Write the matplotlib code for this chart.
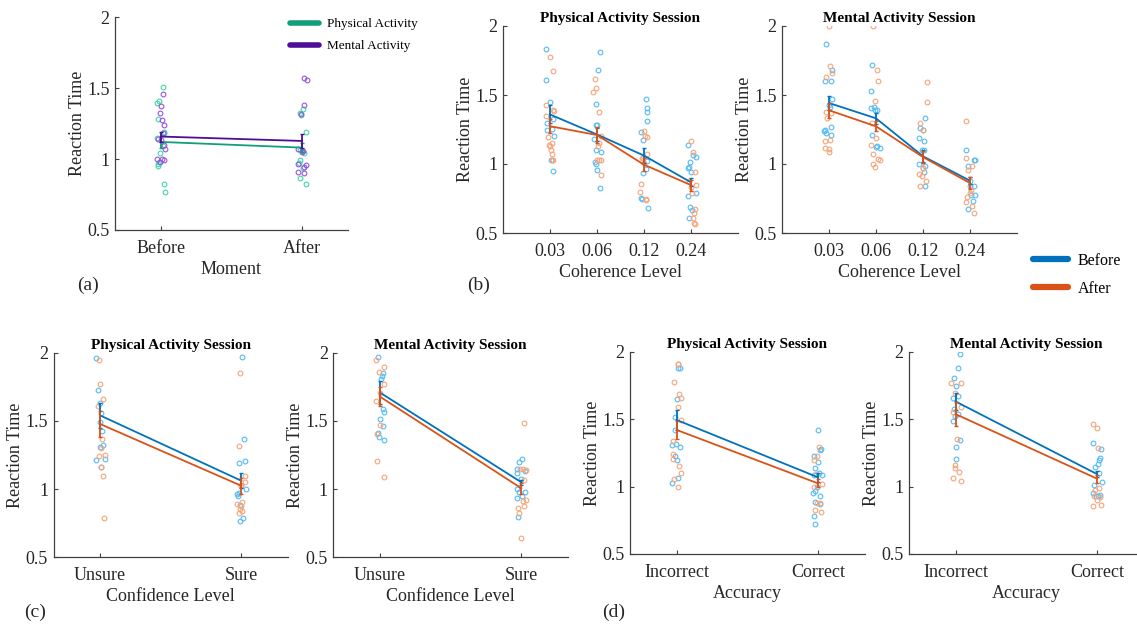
import numpy as np
import matplotlib
matplotlib.use("Agg")
import matplotlib.pyplot as plt
from matplotlib.lines import Line2D

plt.rcParams['font.family'] = ['Liberation Serif', 'DejaVu Serif']

# ---------- colours ----------
c_before, c_after = '#0072BD', '#D95319'
c_before_pt, c_after_pt = '#55BBF5', '#F5A57A'
c_phys, c_ment = '#129E7A', '#4E0E97'
c_phys_pt, c_ment_pt = '#40D9A5', '#9955DD'

# ---------- panel (a): moment ----------
a_ticks = ['Before', 'After']
a_phys_mean = [1.121, 1.081]
a_phys_err = [0.045, 0.03]
a_ment_mean = [1.159, 1.128]
a_ment_err = [0.035, 0.05]
a_phys_y = [[1.507, 1.408, 1.394, 1.281, 1.194, 1.186, 1.147, 1.095, 1.041, 0.982, 0.966, 0.952, 0.822, 0.768],
            [1.352, 1.324, 1.312, 1.192, 1.065, 1.06, 1.041, 0.994, 0.971, 0.935, 0.865, 0.822]]
a_phys_dx = [[0.012, -0.017, -0.028, -0.024, 0.019, 0.02, -0.028, 0.012, -0.009, -0.012, -0.024, -0.024, 0.019, 0.028],
             [0.005, -0.012, -0.007, 0.031, -0.012, 0.0, 0.012, -0.017, -0.024, 0.007, -0.017, 0.026]]
a_ment_y = [[1.458, 1.375, 1.326, 1.274, 1.243, 1.187, 1.145, 1.135, 1.098, 1.072, 0.999, 0.999, 0.994, 0.978],
            [1.571, 1.561, 1.382, 1.316, 1.069, 1.06, 1.05, 0.966, 0.961, 0.947, 0.912, 0.9]]
a_ment_dx = [[0.014, 0.0, -0.005, 0.007, 0.024, 0.012, -0.019, 0.0, 0.019, 0.028, -0.028, 0.007, 0.019, -0.005],
             [0.012, 0.035, 0.012, -0.007, -0.028, 0.005, 0.0, -0.028, 0.031, 0.017, -0.031, 0.017]]

# ---------- panel (b): coherence level ----------
b_ticks = ['0.03', '0.06', '0.12', '0.24']
b_phys_before_mean = [1.359, 1.214, 1.061, 0.867]
b_phys_before_err = [0.065, 0.05, 0.055, 0.03]
b_phys_after_mean = [1.274, 1.21, 0.995, 0.847]
b_phys_after_err = [0.05, 0.055, 0.048, 0.04]
b_phys_before_y = [[1.833, 1.607, 1.449, 1.328, 1.299, 1.255, 1.245, 1.201, 1.032, 0.949],
                   [1.808, 1.68, 1.434, 1.286, 1.28, 1.182, 1.104, 1.085, 1.015, 1.002, 0.959, 0.825],
                   [1.468, 1.403, 1.379, 1.311, 1.231, 1.177, 0.964, 1.019, 0.934, 0.752, 0.748, 0.684],
                   [1.136, 1.068, 1.051, 1.012, 0.968, 0.976, 0.94, 0.769, 0.793, 0.692, 0.667, 0.607]]
b_phys_before_dx = [[-0.078, -0.092, 0.0, 0.071, -0.071, 0.043, -0.057, 0.085, 0.014, 0.071],
                    [0.064, 0.028, -0.028, -0.021, 0.007, -0.064, -0.014, 0.078, -0.05, -0.021, 0.007, 0.064],
                    [0.05, 0.057, 0.071, 0.064, -0.071, -0.028, 0.035, 0.057, -0.028, -0.057, -0.035, 0.092],
                    [-0.071, 0.043, 0.099, -0.021, -0.064, -0.035, -0.007, -0.057, 0.099, -0.028, 0.014, -0.035]]
b_phys_after_y = [[1.774, 1.675, 1.427, 1.391, 1.381, 1.347, 1.197, 1.153, 1.138, 1.129, 1.104, 1.075, 1.032, 1.027],
                  [1.619, 1.553, 1.524, 1.379, 1.206, 1.153, 1.129, 1.032, 1.027, 1.027, 0.922],
                  [1.238, 1.197, 1.201, 1.075, 1.044, 1.046, 1.007, 0.857, 0.796, 0.745, 0.74],
                  [1.17, 1.085, 0.944, 0.874, 0.847, 0.833, 0.789, 0.672, 0.643, 0.612, 0.571, 0.568]]
b_phys_after_dx = [[-0.007, 0.064, -0.085, 0.057, 0.085, -0.078, -0.043, 0.05, -0.014, 0.0, 0.014, 0.035, 0.05, 0.071],
                   [-0.043, -0.021, -0.078, 0.05, 0.078, 0.043, 0.028, 0.007, 0.05, 0.092, 0.092],
                   [0.007, 0.071, 0.021, 0.071, -0.014, -0.05, 0.0, -0.071, -0.085, 0.035, 0.05],
                   [-0.007, 0.035, 0.092, -0.035, 0.099, -0.007, 0.028, 0.085, 0.057, 0.035, 0.064, 0.078]]
b_ment_before_mean = [1.442, 1.331, 1.056, 0.879]
b_ment_before_err = [0.048, 0.04, 0.045, 0.025]
b_ment_after_mean = [1.389, 1.273, 1.05, 0.862]
b_ment_after_err = [0.055, 0.036, 0.045, 0.043]
b_ment_before_y = [[1.867, 1.679, 1.601, 1.599, 1.471, 1.43, 1.411, 1.266, 1.244, 1.237, 1.225, 1.213],
                   [1.715, 1.527, 1.406, 1.413, 1.394, 1.394, 1.213, 1.133, 1.123, 1.116],
                   [1.333, 1.261, 1.244, 1.188, 1.169, 1.104, 1.099, 1.002, 0.988, 0.94, 0.838],
                   [1.104, 1.031, 1.031, 0.983, 0.874, 0.838, 0.838, 0.778, 0.778, 0.729, 0.674]]
b_ment_before_dx = [[-0.057, 0.064, 0.05, -0.078, 0.064, -0.007, 0.014, 0.043, -0.092, -0.1, -0.057, 0.043],
                    [-0.085, -0.099, -0.1, -0.043, -0.028, 0.021, -0.085, 0.021, 0.007, 0.092],
                    [0.05, -0.057, -0.007, -0.078, 0.014, -0.021, 0.028, -0.092, 0.05, 0.014, 0.035],
                    [-0.078, 0.085, 0.1, -0.035, -0.007, -0.007, 0.078, 0.028, 0.1, 0.064, -0.043]]
b_ment_after_y = [[1.998, 1.708, 1.66, 1.628, 1.37, 1.377, 1.331, 1.164, 1.171, 1.116, 1.109, 1.085],
                  [1.998, 1.679, 1.599, 1.459, 1.297, 1.188, 1.14, 1.072, 1.036, 1.031, 1.002, 0.981],
                  [1.592, 1.447, 1.297, 1.249, 0.971, 0.969, 0.93, 0.911, 0.879, 0.841],
                  [1.314, 1.043, 0.983, 0.959, 0.814, 0.79, 0.758, 0.725, 0.698, 0.642]]
b_ment_after_dx = [[-0.007, 0.028, 0.064, -0.064, 0.05, -0.057, -0.035, -0.078, 0.014, -0.078, 0.007, -0.007],
                   [-0.064, 0.028, 0.05, -0.014, -0.085, 0.007, -0.099, -0.071, 0.043, 0.078, -0.064, -0.014],
                   [0.085, 0.078, -0.071, 0.0, -0.007, 0.007, -0.078, -0.021, 0.064, -0.071],
                   [-0.085, -0.085, 0.035, -0.043, 0.014, -0.007, -0.057, -0.078, 0.05, 0.085]]

# ---------- panel (c): confidence level ----------
c_ticks = ['Unsure', 'Sure']
c_phys_before_mean = [1.54, 1.061]
c_phys_before_err = [0.093, 0.055]
c_phys_after_mean = [1.477, 1.024]
c_phys_after_err = [0.093, 0.06]
c_phys_before_y = [[1.958, 1.724, 1.633, 1.555, 1.494, 1.425, 1.323, 1.311, 1.213, 1.22, 1.159],
                   [1.971, 1.364, 1.208, 1.188, 1.0, 0.973, 0.963, 0.949, 0.883, 0.785, 0.765]]
c_phys_before_dx = [[-0.031, -0.019, 0.002, 0.007, 0.0, 0.012, 0.019, 0.002, -0.031, 0.035, 0.007],
                    [0.005, 0.019, 0.028, -0.017, 0.031, -0.017, -0.031, -0.024, -0.012, 0.012, -0.012]]
c_phys_after_y = [[1.946, 1.773, 1.658, 1.609, 1.364, 1.303, 1.242, 1.247, 1.161, 1.098, 0.785],
                  [1.848, 1.318, 1.098, 1.054, 1.029, 1.02, 0.902, 0.89, 0.878, 0.851, 0.841, 0.822]]
c_phys_after_dx = [[-0.005, -0.002, 0.019, -0.014, 0.014, 0.005, -0.009, 0.031, 0.009, 0.021, 0.024],
                   [-0.012, -0.017, 0.028, 0.024, 0.0, -0.002, 0.007, -0.031, 0.0, -0.012, 0.007, -0.019]]
c_ment_before_mean = [1.707, 1.05]
c_ment_before_err = [0.083, 0.02]
c_ment_after_mean = [1.677, 1.006]
c_ment_after_err = [0.07, 0.04]
c_ment_before_y = [[1.971, 1.848, 1.829, 1.804, 1.584, 1.565, 1.516, 1.465, 1.408, 1.384, 1.359],
                   [1.218, 1.201, 1.145, 1.115, 1.135, 1.076, 0.998, 0.981, 0.981, 0.936, 0.948, 0.797]]
c_ment_before_dx = [[-0.014, 0.017, 0.012, 0.005, 0.021, 0.031, 0.002, 0.017, -0.014, -0.007, 0.026],
                    [0.003, -0.018, -0.033, -0.028, 0.028, -0.005, -0.028, -0.015, 0.025, -0.033, 0.003, -0.023]]
c_ment_after_y = [[1.946, 1.892, 1.856, 1.77, 1.702, 1.645, 1.469, 1.403, 1.205, 1.09],
                  [1.482, 1.15, 1.15, 1.14, 1.066, 0.917, 0.912, 0.876, 0.863, 0.826, 0.643]]
c_ment_after_dx = [[-0.028, 0.028, -0.009, 0.024, -0.002, -0.031, 0.002, -0.021, -0.021, 0.026],
                   [0.02, -0.008, 0.013, 0.03, 0.02, 0.033, 0.013, 0.015, -0.023, -0.015, 0.0]]

# ---------- panel (d): accuracy ----------
d_ticks = ['Incorrect', 'Correct']
d_phys_before_mean = [1.494, 1.069]
d_phys_before_err = [0.075, 0.035]
d_phys_after_mean = [1.42, 1.024]
d_phys_after_err = [0.068, 0.03]
d_phys_before_y = [[1.876, 1.876, 1.647, 1.519, 1.42, 1.316, 1.306, 1.296, 1.227, 1.198, 1.062, 1.03],
                   [1.417, 1.271, 1.278, 1.226, 1.185, 1.14, 1.103, 1.084, 1.089, 1.0, 0.969, 0.952, 0.927, 0.883, 0.874, 0.785, 0.726]]
d_phys_before_dx = [[0.012, 0.024, 0.005, -0.014, -0.014, -0.005, -0.031, 0.024, -0.009, 0.0, 0.007, -0.033],
                    [0.002, 0.017, 0.024, -0.031, -0.002, -0.017, 0.007, -0.026, 0.031, -0.007, -0.019, -0.035, 0.012, -0.017, 0.017, -0.024, -0.019]]
d_phys_after_y = [[1.909, 1.909, 1.773, 1.689, 1.654, 1.592, 1.494, 1.34, 1.243, 1.206, 1.152, 1.103, 1.054, 1.0],
                  [1.296, 1.226, 1.197, 1.093, 1.02, 0.996, 0.877, 0.877, 0.826, 0.808]]
d_phys_after_dx = [[0.007, 0.012, -0.019, 0.019, 0.028, 0.012, 0.028, -0.028, -0.024, -0.028, 0.019, 0.028, -0.019, 0.007],
                   [0.005, -0.007, -0.024, -0.012, 0.026, -0.028, 0.012, -0.007, -0.017, 0.019]]
d_ment_before_mean = [1.631, 1.093]
d_ment_before_err = [0.062, 0.025]
d_ment_after_mean = [1.537, 1.059]
d_ment_after_err = [0.09, 0.03]
d_ment_before_y = [[1.983, 1.876, 1.804, 1.743, 1.673, 1.653, 1.574, 1.537, 1.525, 1.483, 1.347, 1.295, 1.208],
                   [1.323, 1.278, 1.21, 1.197, 1.165, 1.148, 1.1, 1.036, 1.012, 0.953, 0.94, 0.93, 0.93]]
d_ment_before_dx = [[0.031, 0.017, -0.009, 0.002, 0.014, -0.019, -0.012, 0.017, -0.002, -0.017, 0.028, 0.002, 0.002],
                    [-0.029, 0.026, 0.023, 0.018, 0.005, -0.013, 0.013, 0.034, -0.023, -0.029, 0.023, 0.008, -0.008]]
d_ment_after_y = [[1.767, 1.767, 1.696, 1.587, 1.55, 1.356, 1.158, 1.134, 1.109, 1.067, 1.042],
                  [1.466, 1.432, 1.288, 0.99, 0.977, 0.932, 0.925, 0.897, 0.866, 0.859]]
d_ment_after_dx = [[-0.031, 0.035, -0.007, 0.035, -0.017, 0.012, -0.002, -0.007, 0.021, -0.021, 0.035],
                   [-0.026, 0.003, 0.01, 0.018, -0.016, -0.023, 0.023, 0.003, 0.031, -0.029]]


def style_axes(ax, ticks, xlim, xlabel, title=None):
    for s in ['top', 'right']:
        ax.spines[s].set_visible(False)
    for s in ['left', 'bottom']:
        ax.spines[s].set_color('#404040')
        ax.spines[s].set_linewidth(0.9)
    ax.set_xlim(*xlim)
    ax.set_ylim(0.5, 2)
    ax.set_xticks(np.arange(1, len(ticks) + 1))
    ax.set_xticklabels(ticks)
    ax.set_yticks([0.5, 1, 1.5, 2])
    ax.set_yticklabels(['0.5', '1', '1.5', '2'])
    ax.tick_params(direction='in', length=3, width=0.8, colors='#404040',
                   labelcolor='#262626', labelsize=13, pad=4)
    ax.tick_params(axis='x', pad=7)
    ax.set_xlabel(xlabel, fontsize=13, color='#262626', labelpad=3)
    ax.set_ylabel('Reaction Time', fontsize=13, color='#262626', labelpad=1)
    if title:
        ax.set_title(title, fontsize=11, fontweight='bold', pad=3)


def draw_group(ax, ys, dxs, mean, err, pt_col, line_col, z):
    for i, (yy, dd) in enumerate(zip(ys, dxs)):
        ax.plot(i + 1 + np.array(dd), yy, 'o', mfc='none', mec=pt_col,
                ms=3.4, mew=0.8, zorder=z)
    x = np.arange(1, len(mean) + 1)
    ax.errorbar(x, mean, yerr=err, color=line_col, lw=1.3, elinewidth=1.3,
                capsize=1.5, capthick=1.0, zorder=z + 5)


fig = plt.figure(figsize=(11.37, 6.26), dpi=100)
W, H = 1137, 626


def add_ax(x0, x1, ytop, ybot):
    return fig.add_axes([x0 / W, 1 - ybot / H, (x1 - x0) / W, (ybot - ytop) / H])


# (a)
ax = add_ax(115, 348, 17.3, 230)
draw_group(ax, a_phys_y, a_phys_dx, a_phys_mean, a_phys_err, c_phys_pt, c_phys, 1)
draw_group(ax, a_ment_y, a_ment_dx, a_ment_mean, a_ment_err, c_ment_pt, c_ment, 2)
style_axes(ax, a_ticks, (0.674, 2.326), 'Moment')

# (b)
ax = add_ax(503, 738, 26, 233)
draw_group(ax, b_phys_before_y, b_phys_before_dx, b_phys_before_mean, b_phys_before_err, c_before_pt, c_before, 1)
draw_group(ax, b_phys_after_y, b_phys_after_dx, b_phys_after_mean, b_phys_after_err, c_after_pt, c_after, 2)
style_axes(ax, b_ticks, (0, 5), 'Coherence Level', 'Physical Activity Session')
ax = add_ax(782, 1017, 26, 233)
draw_group(ax, b_ment_before_y, b_ment_before_dx, b_ment_before_mean, b_ment_before_err, c_before_pt, c_before, 1)
draw_group(ax, b_ment_after_y, b_ment_after_dx, b_ment_after_mean, b_ment_after_err, c_after_pt, c_after, 2)
style_axes(ax, b_ticks, (0, 5), 'Coherence Level', 'Mental Activity Session')

# (c)
ax = add_ax(53.6, 288, 352.7, 557.3)
draw_group(ax, c_phys_before_y, c_phys_before_dx, c_phys_before_mean, c_phys_before_err, c_before_pt, c_before, 1)
draw_group(ax, c_phys_after_y, c_phys_after_dx, c_phys_after_mean, c_phys_after_err, c_after_pt, c_after, 2)
style_axes(ax, c_ticks, (0.67, 2.33), 'Confidence Level', 'Physical Activity Session')
ax = add_ax(333.5, 568, 352.7, 557.3)
draw_group(ax, c_ment_before_y, c_ment_before_dx, c_ment_before_mean, c_ment_before_err, c_before_pt, c_before, 1)
draw_group(ax, c_ment_after_y, c_ment_after_dx, c_ment_after_mean, c_ment_after_err, c_after_pt, c_after, 2)
style_axes(ax, c_ticks, (0.67, 2.33), 'Confidence Level', 'Mental Activity Session')

# (d)
ax = add_ax(630, 864.5, 351.7, 554)
draw_group(ax, d_phys_before_y, d_phys_before_dx, d_phys_before_mean, d_phys_before_err, c_before_pt, c_before, 1)
draw_group(ax, d_phys_after_y, d_phys_after_dx, d_phys_after_mean, d_phys_after_err, c_after_pt, c_after, 2)
style_axes(ax, d_ticks, (0.67, 2.33), 'Accuracy', 'Physical Activity Session')
ax = add_ax(909, 1143.5, 351.7, 554)
draw_group(ax, d_ment_before_y, d_ment_before_dx, d_ment_before_mean, d_ment_before_err, c_before_pt, c_before, 1)
draw_group(ax, d_ment_after_y, d_ment_after_dx, d_ment_after_mean, d_ment_after_err, c_after_pt, c_after, 2)
style_axes(ax, d_ticks, (0.67, 2.33), 'Accuracy', 'Mental Activity Session')

# legends
h_a = [Line2D([], [], color=c_phys, lw=4, solid_capstyle='round'),
       Line2D([], [], color=c_ment, lw=4, solid_capstyle='round')]
fig.legend(h_a, ['Physical Activity', 'Mental Activity'], loc='upper left',
           bbox_to_anchor=(290 / W, 1 - 18 / H), frameon=False, fontsize=9.5,
           handlelength=2.2, handletextpad=0.6, labelspacing=0.75,
           borderpad=0, borderaxespad=0)
h_b = [Line2D([], [], color=c_before, lw=4.5, solid_capstyle='round'),
       Line2D([], [], color=c_after, lw=4.5, solid_capstyle='round')]
fig.legend(h_b, ['Before', 'After'], loc='upper left',
           bbox_to_anchor=(1033 / W, 1 - 253 / H), frameon=False, fontsize=11.5,
           handlelength=2.2, handletextpad=0.6, labelspacing=0.75,
           borderpad=0, borderaxespad=0)

# panel letters
for lab, x, y in [('(a)', 88, 285), ('(b)', 479, 285), ('(c)', 35, 612), ('(d)', 614, 612)]:
    fig.text(x / W, 1 - y / H, lab, fontsize=14, ha='center', va='center', color='#262626')

fig.savefig('out.png', dpi=100)
